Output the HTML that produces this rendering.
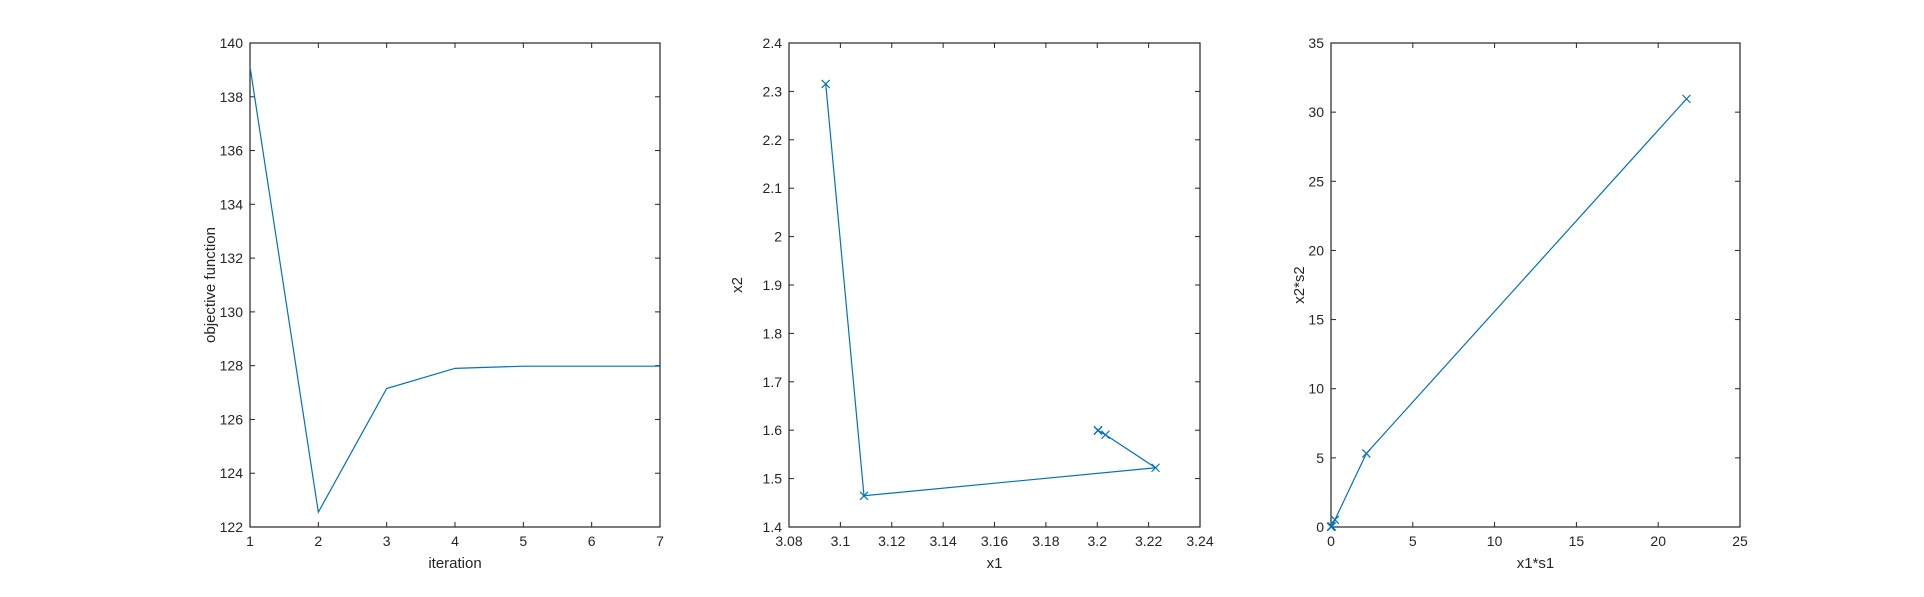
<!DOCTYPE html>
<html><head><meta charset="utf-8"><style>
body{margin:0;background:#fff;width:1924px;height:592px;overflow:hidden}
svg text{font-family:"Liberation Sans",Arial,sans-serif;fill:#262626}
</style></head><body>
<svg id="fig" width="1924" height="592" xmlns="http://www.w3.org/2000/svg"></svg>
<script>
const iterX = [1,2,3,4,5,6,7];
const objY = [139.12,122.55,127.15,127.9,127.98,127.98,127.98];
const x1Vals = [3.0943,3.1092,3.2227,3.2032,3.2003,3.2003,3.2003];
const x2Vals = [2.3154,1.4645,1.5224,1.5906,1.5995,1.5995,1.5995];
const x1s1Vals = [21.73,2.16,0.24,0.04,0.02,0.01,0.01];
const x2s2Vals = [30.96,5.32,0.52,0.05,0.02,0.01,0.01];
const ticks1X = [1,2,3,4,5,6,7];
const ticks1Y = [122,124,126,128,130,132,134,136,138,140];
const ticks2X = [3.08,3.1,3.12,3.14,3.16,3.18,3.2,3.22,3.24];
const ticks2Y = [1.4,1.5,1.6,1.7,1.8,1.9,2,2.1,2.2,2.3,2.4];
const ticks3X = [0,5,10,15,20,25];
const ticks3Y = [0,5,10,15,20,25,30,35];

const NS="http://www.w3.org/2000/svg";
const svg=document.getElementById('fig');
function el(tag,attrs,parent){const e=document.createElementNS(NS,tag);for(const k in attrs)e.setAttribute(k,attrs[k]);(parent||svg).appendChild(e);return e;}
const TOP=43,BOT=527;
function panel(name,L,R,xd,yd,xt,yt,xs,ys,xlab,ylab,markers,fmtX,fmtY,yoff){
  const g=el('g',{});
  
  
  const sx=v=>L+(v-xd[0])/(xd[1]-xd[0])*(R-L);
  const sy=v=>BOT-(v-yd[0])/(yd[1]-yd[0])*(BOT-TOP);
  const frame=el('rect',{x:L,y:TOP,width:R-L,height:BOT-TOP,fill:'#fff',stroke:'#262626','stroke-width':1.2},g);
  
  
  xt.forEach(v=>{const x=sx(v);
    el('line',{x1:x,x2:x,y1:BOT,y2:BOT-5,stroke:'#262626'},g);
    el('line',{x1:x,x2:x,y1:TOP,y2:TOP+5,stroke:'#262626'},g);
    const t=el('text',{x:x,y:BOT+19,'text-anchor':'middle','font-size':14},g);t.textContent=fmtX(v);
    
    });
  yt.forEach(v=>{const y=sy(v);
    el('line',{x1:L,x2:L+5,y1:y,y2:y,stroke:'#262626'},g);
    el('line',{x1:R,x2:R-5,y1:y,y2:y,stroke:'#262626'},g);
    const t=el('text',{x:L-7,y:y+5,'text-anchor':'end','font-size':14},g);t.textContent=fmtY(v);
    
    });
  const pts=xs.map((v,i)=>sx(v)+','+sy(ys[i])).join(' ');
  const ln=el('polyline',{points:pts,fill:'none',stroke:'#0072BD','stroke-width':1.2},g);
  
  
  if(markers){xs.forEach((v,i)=>{const x=sx(v),y=sy(ys[i]);
    const m=el('path',{d:`M${x-4},${y-4}L${x+4},${y+4}M${x-4},${y+4}L${x+4},${y-4}`,stroke:'#0072BD','stroke-width':1.2,fill:'none'},g);
    
    });}
  const xl=el('text',{x:(L+R)/2,y:BOT+41,'text-anchor':'middle','font-size':15},g);xl.textContent=xlab;
  
  
  const cy=(TOP+BOT)/2, lx=L-yoff;
  const yl=el('text',{x:lx,y:cy+5,'text-anchor':'middle','font-size':15,transform:`rotate(-90 ${lx} ${cy})`},g);yl.textContent=ylab;
  
  
}
panel('objective-panel',250,660,[1,7],[122,140],ticks1X,ticks1Y,iterX,objY,'iteration','objective function',false,v=>String(v),v=>String(v),40);
panel('x1-x2-panel',789,1200,[3.08,3.24],[1.4,2.4],ticks2X,ticks2Y,x1Vals,x2Vals,'x1','x2',true,v=>String(+v.toFixed(2)),v=>String(+v.toFixed(1)),52);
panel('scaled-panel',1331,1740,[0,25],[0,35],ticks3X,ticks3Y,x1s1Vals,x2s2Vals,'x1*s1','x2*s2',true,v=>String(v),v=>String(v),32);
</script>
</body></html>
